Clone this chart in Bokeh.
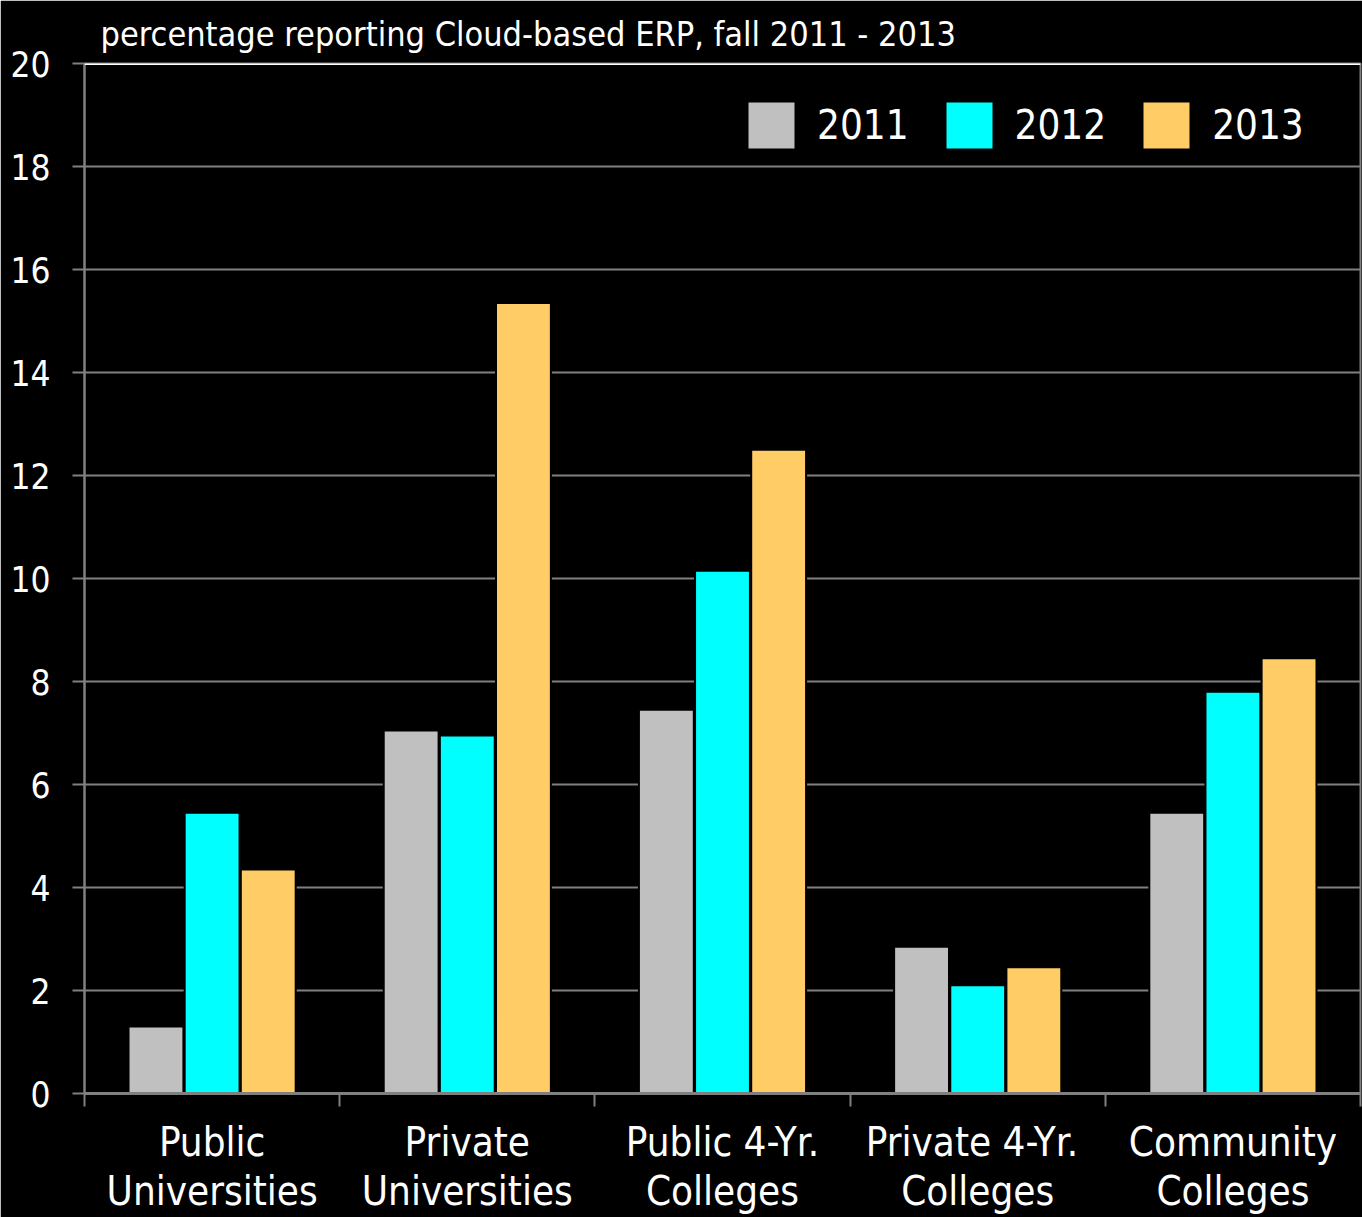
from bokeh.plotting import figure
from bokeh.models import ColumnDataSource, FixedTicker, Span, Title, Legend
from bokeh.transform import dodge
from bokeh.embed import file_html
from bokeh.resources import INLINE

categories = ["Public\nUniversities", "Private\nUniversities", "Public 4-Yr.\nColleges",
              "Private  4-Yr.\nColleges", "Community\nColleges"]
years = ["2011", "2012", "2013"]
v2011 = [1.3, 7.05, 7.45, 2.85, 5.45]
v2012 = [5.45, 6.95, 10.15, 2.1, 7.8]
v2013 = [4.35, 15.35, 12.5, 2.45, 8.45]
y_ticks = [0, 2, 4, 6, 8, 10, 12, 14, 16, 18, 20]
title_text = "percentage reporting Cloud-based ERP, fall 2011 - 2013"

FONT = "DejaVu Sans Condensed"
GREY = "#808080"
colors = ["#C0C0C0", "#00FFFF", "#FFCC66"]

centers = [i + 0.5 for i in range(len(categories))]
src = ColumnDataSource(dict(x=centers, v2011=v2011, v2012=v2012, v2013=v2013))

p = figure(width=1362, height=1217, x_range=(0, len(categories)), y_range=(0, 20),
           output_backend="svg", toolbar_location=None,
           background_fill_color="black", border_fill_color="black",
           min_border_left=84, min_border_right=2, min_border_top=63, min_border_bottom=122)

p.outline_line_color = GREY
p.outline_line_width = 2

renderers = []
for yr, fld, off, col in zip(years, ["v2011", "v2012", "v2013"], [-0.22, 0.0, 0.22], colors):
    r = p.vbar(x=dodge("x", off, range=p.x_range), top=fld, width=0.215, bottom=0,
               source=src, fill_color=col, line_color="black", line_width=2)
    renderers.append((yr, [r]))

legend = Legend(items=renderers, orientation="horizontal", location=(657, 938),
                glyph_width=60, glyph_height=60, label_standoff=16, spacing=30,
                padding=0, margin=0, border_line_color=None, background_fill_alpha=0,
                label_text_color="white", label_text_font=FONT, label_text_font_size="40px")
p.add_layout(legend, "center")

# grid
p.xgrid.grid_line_color = None
p.ygrid.ticker = FixedTicker(ticks=y_ticks)
p.ygrid.grid_line_color = GREY
p.ygrid.grid_line_width = 2
p.add_layout(Span(location=20, dimension="width", line_color="white", line_width=3))

# y axis
p.yaxis.ticker = FixedTicker(ticks=y_ticks)
p.yaxis.axis_line_color = GREY
p.yaxis.axis_line_width = 2
p.yaxis.major_tick_line_color = GREY
p.yaxis.major_tick_line_width = 2
p.yaxis.major_tick_out = 12
p.yaxis.major_tick_in = 0
p.yaxis.minor_tick_line_color = None
p.yaxis.major_label_text_color = "white"
p.yaxis.major_label_text_font = FONT
p.yaxis.major_label_text_font_size = "35px"
p.yaxis.major_label_standoff = 22

# x axis
p.xaxis.ticker = FixedTicker(ticks=centers, minor_ticks=list(range(len(categories) + 1)))
p.xaxis.major_label_overrides = {c: lab for c, lab in zip(centers, categories)}
p.xaxis.axis_line_color = GREY
p.xaxis.axis_line_width = 3
p.xaxis.major_tick_line_color = None
p.xaxis.minor_tick_line_color = GREY
p.xaxis.minor_tick_line_width = 2
p.xaxis.minor_tick_out = 13
p.xaxis.minor_tick_in = 0
p.xaxis.major_label_text_color = "white"
p.xaxis.major_label_text_font = FONT
p.xaxis.major_label_text_font_size = "40px"
p.xaxis.major_label_text_line_height = 1.08
p.xaxis.major_label_standoff = 12

t = Title(text=title_text, align="left", offset=16, text_color="white",
          text_font=FONT, text_font_size="34px", text_font_style="normal", standoff=19)
p.add_layout(t, "above")

open("out.html", "w").write(file_html(p, INLINE))
